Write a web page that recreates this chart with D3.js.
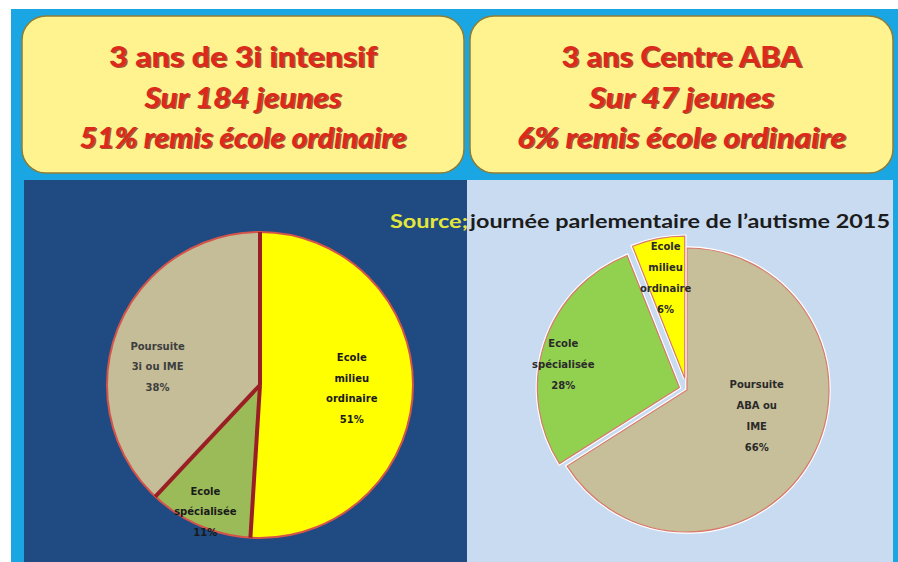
<!DOCTYPE html>
<html><head><meta charset="utf-8">
<script src="https://cdn.jsdelivr.net/npm/d3@7"></script>
<style>html,body{margin:0;padding:0;background:#fff;}svg{display:block;}</style>
</head><body>
<script>
// ---- data ----
const leftTitle = ["3 ans de 3i intensif", "Sur 184 jeunes", "51% remis école ordinaire"];
const rightTitle = ["3 ans Centre ABA", "Sur 47 jeunes", "6% remis école ordinaire"];
const sourcePrefix = "Source;";
const sourceText = "journée parlementaire de l’autisme 2015";

const leftCategories = ["Ecole milieu ordinaire", "Ecole spécialisée", "Poursuite 3i ou IME"];
const leftValues = [51, 11, 38];
const leftLabels = [["Ecole", "milieu", "ordinaire", "51%"], ["Ecole", "spécialisée", "11%"], ["Poursuite", "3i ou IME", "38%"]];

const rightCategories = ["Poursuite ABA ou IME", "Ecole spécialisée", "Ecole milieu ordinaire"];
const rightValues = [66, 28, 6];
const rightLabels = [["Poursuite", "ABA ou", "IME", "66%"], ["Ecole", "spécialisée", "28%"], ["Ecole", "milieu", "ordinaire", "6%"]];

// ---- drawing ----
const W = 898, H = 562;
const svg = d3.select("body").append("svg").attr("width", W).attr("height", H);

svg.append("rect").attr("x", 11).attr("y", 9).attr("width", W - 11).attr("height", H - 9).attr("fill", "#1aa6e2");

// title boxes
function titleBox(x0, x1, lines, widths) {
  svg.append("rect").attr("x", x0).attr("y", 16).attr("width", x1 - x0).attr("height", 157)
    .attr("rx", 24).attr("ry", 24).attr("fill", "#fff38f").attr("stroke", "#8d7d35").attr("stroke-width", 1.5);
  const cx = (x0 + x1) / 2;
  const ys = [67, 108, 148];
  lines.forEach((t, i) => {
    [["#7a150c", 1.4], ["#db2a1c", 0]].forEach(([c, off]) => {
      svg.append("text").attr("x", cx + off).attr("y", ys[i] + off)
        .attr("text-anchor", "middle")
        .attr("font-family", "Lato, 'Open Sans', sans-serif")
        .attr("font-weight", 900)
        .attr("font-style", i === 0 ? "normal" : "italic")
        .attr("font-size", 28)
        .attr("fill", c)
        .attr("opacity", off ? 0.7 : 1)
        .attr("textLength", widths[i]).attr("lengthAdjust", "spacingAndGlyphs")
        .text(t);
    });
  });
}
titleBox(22, 464, leftTitle, [268, 197, 327]);
titleBox(470, 893, rightTitle, [240, 185, 329]);

// panels
svg.append("rect").attr("x", 24).attr("y", 180).attr("width", 443).attr("height", H - 180).attr("fill", "#1f4a82");
svg.append("rect").attr("x", 467).attr("y", 180).attr("width", 426).attr("height", H - 180).attr("fill", "#c8dbf1");

// source
svg.append("text").attr("x", 390).attr("y", 228).attr("font-family", "Lato, sans-serif").attr("font-weight", 700)
  .attr("font-size", 19).attr("fill", "#e4e63a").attr("textLength", 78).attr("lengthAdjust", "spacingAndGlyphs").text(sourcePrefix);
svg.append("text").attr("x", 470).attr("y", 228).attr("font-family", "Lato, sans-serif").attr("font-weight", 700)
  .attr("font-size", 19).attr("fill", "#1c1c1c").attr("textLength", 420).attr("lengthAdjust", "spacingAndGlyphs").text(sourceText);

const deg = Math.PI / 180;

// ---- left pie ----
(function () {
  const cx = 260, cy = 385, r = 153;
  const colors = ["#ffff00", "#9bbb59", "#c4bd97"];
  const pie = d3.pie().sort(null).value(d => d);
  const arcs = pie(leftValues);
  const arc = d3.arc().innerRadius(0).outerRadius(r);
  const g = svg.append("g").attr("transform", `translate(${cx},${cy})`);
  g.selectAll("path.slice").data(arcs).join("path").attr("class", "slice")
    .attr("d", arc).attr("fill", (d, i) => colors[i]);
  g.append("circle").attr("r", r).attr("fill", "none").attr("stroke", "#d4544a").attr("stroke-width", 2);
  g.selectAll("line.sep").data(arcs).join("line").attr("class", "sep")
    .attr("x1", 0).attr("y1", 0)
    .attr("x2", d => r * Math.sin(d.startAngle)).attr("y2", d => -r * Math.cos(d.startAngle))
    .attr("stroke", "#9a1f24").attr("stroke-width", 4).attr("stroke-linecap", "butt");
  const lab = [{ rf: 0.6, dy: 0 }, { rf: 0.9, dy: 0 }, { rf: 0.72, dy: 22 }];
  const colorsT = ["#1a1a1a", "#1a1a1a", "#3e3e3e"];
  arcs.forEach((d, i) => {
    const a = (d.startAngle + d.endAngle) / 2, rr = r * lab[i].rf;
    const x = rr * Math.sin(a), y = -rr * Math.cos(a) + lab[i].dy;
    const lines = leftLabels[i], lh = 20.5;
    const t = g.append("text").attr("text-anchor", "middle").attr("font-family", "'DejaVu Sans', sans-serif")
      .attr("font-weight", 700).attr("font-size", 10).attr("fill", colorsT[i]);
    lines.forEach((s, k) => t.append("tspan").attr("x", x).attr("y", y + (k - (lines.length - 1) / 2) * lh + 4).text(s));
  });
})();

// ---- right pie ----
(function () {
  const cx = 687, cy = 390, r = 142;
  const colors = ["#c7bf99", "#92d050", "#ffff00"];
  const explode = [0, 8, 12];
  const pie = d3.pie().sort(null).value(d => d);
  const arcs = pie(rightValues);
  const arc = d3.arc().innerRadius(0).outerRadius(r);
  const g = svg.append("g").attr("transform", `translate(${cx},${cy})`);
  const lab = [{ rf: 0.52, dy: -10, dx: 5 }, { rf: 0.86, dy: 14, dx: 0 }, { rf: 0.72, dy: 0, dx: 0 }];
  arcs.forEach((d, i) => {
    const a = (d.startAngle + d.endAngle) / 2;
    const ox = explode[i] * Math.sin(a), oy = -explode[i] * Math.cos(a);
    const sg = g.append("g").attr("transform", `translate(${ox},${oy})`);
    sg.append("path").attr("d", arc(d)).attr("fill", colors[i])
      .attr("stroke", "#fff").attr("stroke-width", 3.5);
    sg.append("path").attr("d", arc(d)).attr("fill", colors[i])
      .attr("stroke", "#d8796c").attr("stroke-width", 1.2);
  });
  arcs.forEach((d, i) => {
    const a = (d.startAngle + d.endAngle) / 2;
    const ox = explode[i] * Math.sin(a), oy = -explode[i] * Math.cos(a);
    const rr = r * lab[i].rf;
    const x = ox + rr * Math.sin(a) + lab[i].dx, y = oy - rr * Math.cos(a) + lab[i].dy;
    const lines = rightLabels[i], lh = 21;
    const t = g.append("text").attr("text-anchor", "middle").attr("font-family", "'DejaVu Sans', sans-serif")
      .attr("font-weight", 700).attr("font-size", 10).attr("fill", "#2a2a2a");
    lines.forEach((s, k) => t.append("tspan").attr("x", x).attr("y", y + (k - (lines.length - 1) / 2) * lh + 4).text(s));
  });
})();
</script>
</body></html>
